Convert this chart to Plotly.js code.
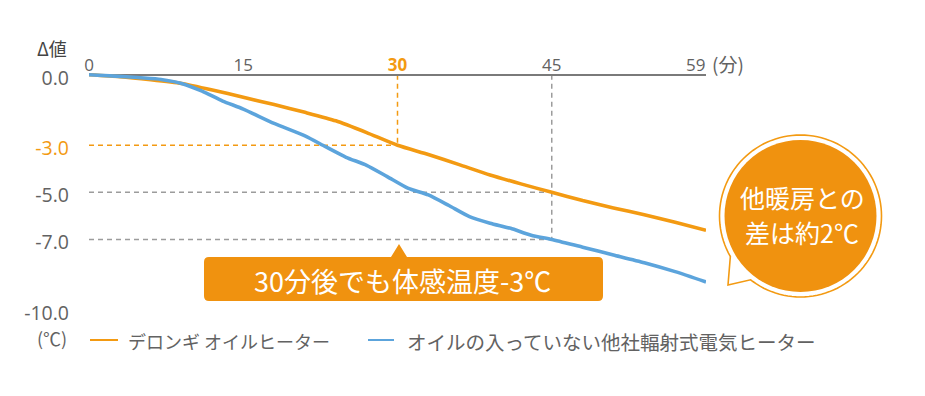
<!DOCTYPE html>
<html><head><meta charset="utf-8">
<script src="https://cdn.plot.ly/plotly-3.0.1.min.js"></script>
<style>html,body{margin:0;padding:0;background:#fff}#chart{width:925px;height:396px}</style>
</head><body><div id="chart"></div>
<script>
// ---- data ----
const seriesNames = ['デロンギ オイルヒーター', 'オイルの入っていない他社輻射式電気ヒーター'];
const delonghiMinutes = [0, 3, 6, 9, 12, 15, 18, 21, 24, 27, 30, 33, 36, 39, 42, 45, 48, 51, 54, 57, 60];
const delonghiDelta   = [0, -0.08, -0.21, -0.37, -0.65, -0.96, -1.27, -1.6, -1.96, -2.46, -3.0, -3.39, -3.82, -4.26, -4.64, -5.0, -5.35, -5.66, -5.95, -6.27, -6.61];
const otherMinutes = [0, 3, 5, 7, 9, 11, 13, 15, 18, 21, 23, 25, 27, 29, 31, 33, 35, 37, 39, 41, 43, 45, 48, 51, 54, 57, 60];
const otherDelta   = [0, -0.07, -0.13, -0.2, -0.37, -0.7, -1.12, -1.46, -2.07, -2.6, -3.06, -3.51, -3.85, -4.33, -4.82, -5.11, -5.56, -6.03, -6.31, -6.53, -6.82, -7.0, -7.33, -7.66, -7.99, -8.37, -8.81];
const xTickVals = [0, 15, 30, 45, 59];
const xTickLabels = ['0', '15', '30', '45', '59'];
const yTickVals = [0, -3, -5, -7, -10];
const yTickLabels = ['0.0', '-3.0', '-5.0', '-7.0', '-10.0'];
const highlightMinute = 30, highlightDelta = -3;
const compareMinute = 45, compareDeltaA = -5, compareDeltaB = -7;
const boxText = '30分後でも体感温度-3℃';
const bubbleLines = ['他暖房との', '差は約2℃'];

// ---- style ----
const ORANGE = '#F39A12', FILL = '#F0920F', BLUE = '#5CA4DC', GRAY = '#626262', DASHGRAY = '#9c9c9c';
const FONT = 'Noto Sans CJK JP, sans-serif';
const NUMFONT = 'Open Sans, Noto Sans CJK JP, sans-serif';
const W = 925, H = 396, ML = 89, MR = 219, MT = 70, MB = 86;
const PW = W - ML - MR, PH = H - MT - MB;
const px = v => (v - ML) / PW;          // pixel -> paper x
const py = v => (H - MB - v) / PH;      // pixel -> paper y

const traces = [
  {x: delonghiMinutes, y: delonghiDelta, name: seriesNames[0], type: 'scatter', mode: 'lines',
   line: {color: ORANGE, width: 3.6, shape: 'spline', smoothing: 0.6}, hoverinfo: 'skip'},
  {x: otherMinutes, y: otherDelta, name: seriesNames[1], type: 'scatter', mode: 'lines',
   line: {color: BLUE, width: 3.6, shape: 'spline', smoothing: 0.6}, hoverinfo: 'skip'}
];

const dashO = {color: ORANGE, width: 1.5, dash: '5px,4px'};
const dashG = {color: DASHGRAY, width: 1.5, dash: '5px,4px'};
const shapes = [
  {type: 'line', xref: 'x', yref: 'y', x0: highlightMinute, x1: highlightMinute, y0: 0, y1: highlightDelta, line: dashO, layer: 'below'},
  {type: 'line', xref: 'x', yref: 'y', x0: 0, x1: highlightMinute, y0: highlightDelta, y1: highlightDelta, line: dashO, layer: 'below'},
  {type: 'line', xref: 'x', yref: 'y', x0: 0, x1: compareMinute, y0: compareDeltaA, y1: compareDeltaA, line: dashG, layer: 'below'},
  {type: 'line', xref: 'x', yref: 'y', x0: 0, x1: compareMinute, y0: compareDeltaB, y1: compareDeltaB, line: dashG, layer: 'below'},
  {type: 'line', xref: 'x', yref: 'y', x0: compareMinute, x1: compareMinute, y0: 0, y1: compareDeltaB, line: dashG, layer: 'below'}
];

// callout box (rounded rect + pointer), pixel geometry converted to paper
(function () {
  const L = 204, R = 603, T = 257, B = 301, r = 5, tipX = 399, tipY = 244, hw = 8;
  const p = (x, y) => px(x).toFixed(5) + ',' + py(y).toFixed(5);
  const path = 'M' + p(L + r, T) + ' L' + p(tipX - hw, T) + ' L' + p(tipX, tipY) + ' L' + p(tipX + hw, T) +
    ' L' + p(R - r, T) + ' Q' + p(R, T) + ' ' + p(R, T + r) + ' L' + p(R, B - r) + ' Q' + p(R, B) + ' ' + p(R - r, B) +
    ' L' + p(L + r, B) + ' Q' + p(L, B) + ' ' + p(L, B - r) + ' L' + p(L, T + r) + ' Q' + p(L, T) + ' ' + p(L + r, T) + ' Z';
  shapes.push({type: 'path', xref: 'paper', yref: 'paper', path: path, fillcolor: FILL, line: {width: 0}, layer: 'above'});
})();

// speech bubble
(function () {
  const cx = 800.5, cy = 216, R = 81, rIn = 76, tip = [728, 285], a1 = 128, a2 = 150;
  let pts = [];
  for (let a = a2; a <= a1 + 360; a += 3) {
    const t = a * Math.PI / 180;
    pts.push([cx + R * Math.cos(t), cy + R * Math.sin(t)]);
  }
  const t1 = (a1 + 360) * Math.PI / 180;
  pts.push([cx + R * Math.cos(t1), cy + R * Math.sin(t1)]);
  pts.push(tip);
  const path = pts.map((q, i) => (i ? 'L' : 'M') + px(q[0]).toFixed(5) + ',' + py(q[1]).toFixed(5)).join(' ') + ' Z';
  shapes.push({type: 'path', xref: 'paper', yref: 'paper', path: path, fillcolor: '#ffffff', line: {color: ORANGE, width: 1.6}, layer: 'above'});
  shapes.push({type: 'circle', xref: 'paper', yref: 'paper', x0: px(cx - rIn), x1: px(cx + rIn), y0: py(cy + rIn), y1: py(cy - rIn),
    fillcolor: FILL, line: {width: 0}, layer: 'above'});
})();

// legend (manual)
const legendItems = [
  {x0: 90, x1: 118, tx: 126, color: ORANGE, name: seriesNames[0], size: 18},
  {x0: 368, x1: 394, tx: 405, color: BLUE, name: seriesNames[1], size: 19.5}
];
const legendY = 340;
legendItems.forEach(it => shapes.push({type: 'line', xref: 'paper', yref: 'paper', x0: px(it.x0), x1: px(it.x1), y0: py(legendY), y1: py(legendY), line: {color: it.color, width: 2}}));

const annotations = [
  {xref: 'paper', yref: 'paper', x: px(69), y: py(48), xanchor: 'right', yanchor: 'middle', text: 'Δ値', showarrow: false, font: {family: FONT, size: 18, color: '#444'}},
  {xref: 'paper', yref: 'paper', x: px(69), y: py(338), xanchor: 'right', yanchor: 'middle', text: '(℃)', showarrow: false, font: {family: FONT, size: 18, color: GRAY}},
  {xref: 'paper', yref: 'paper', x: px(710), y: py(63), xanchor: 'left', yanchor: 'middle', text: '(分)', showarrow: false, font: {family: FONT, size: 19, color: GRAY}},
  {xref: 'paper', yref: 'paper', x: px(402), y: py(280), xanchor: 'center', yanchor: 'middle', text: boxText, showarrow: false, font: {family: FONT, size: 27, color: '#fff'}},
  {xref: 'paper', yref: 'paper', x: px(802), y: py(197), xanchor: 'center', yanchor: 'middle', text: bubbleLines[0], showarrow: false, font: {family: FONT, size: 25, color: '#fff'}},
  {xref: 'paper', yref: 'paper', x: px(802), y: py(232), xanchor: 'center', yanchor: 'middle', text: bubbleLines[1], showarrow: false, font: {family: FONT, size: 25, color: '#fff'}}
];
legendItems.forEach(it => annotations.push({xref: 'paper', yref: 'paper', x: px(it.tx), y: py(legendY + 1), xanchor: 'left', yanchor: 'middle', text: it.name, showarrow: false, font: {family: FONT, size: it.size, color: GRAY}}));

const layout = {
  width: W, height: H, margin: {l: ML, r: MR, t: MT, b: MB, pad: 0},
  paper_bgcolor: '#fff', plot_bgcolor: '#fff', showlegend: false,
  font: {family: FONT, color: GRAY},
  xaxis: {range: [0, 60], side: 'top', showgrid: false, zeroline: false, showline: false, ticks: '',
    tickvals: xTickVals,
    ticktext: xTickLabels.map(t => t === String(highlightMinute) ? '<b><span style="color:' + ORANGE + '">' + t + '</span></b>' : t),
    tickfont: {family: NUMFONT, size: 17, color: GRAY}, ticklabelstandoff: -5, fixedrange: true},
  yaxis: {range: [-10, 0.2], showgrid: false, zeroline: true, zerolinecolor: '#7a7a7a', zerolinewidth: 1.6, showline: false, ticks: '',
    tickvals: yTickVals,
    ticktext: yTickLabels.map((t, i) => yTickVals[i] === highlightDelta ? '<span style="color:' + ORANGE + '">' + t + '</span>' : t),
    tickfont: {family: NUMFONT, size: 19.5, color: GRAY}, ticklabelstandoff: 19, ticklabelshift: 3, fixedrange: true},
  shapes: shapes, annotations: annotations
};
Plotly.newPlot('chart', traces, layout, {displayModeBar: false, staticPlot: true});
</script></body></html>
